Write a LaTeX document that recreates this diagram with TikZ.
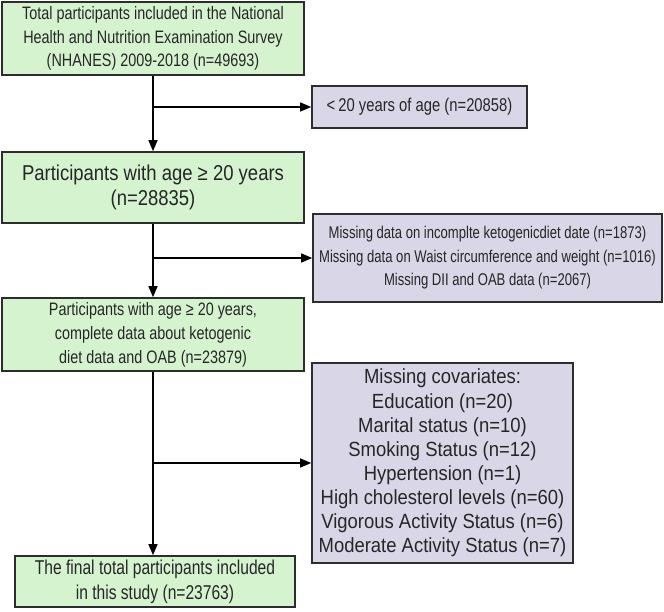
\documentclass[tikz,border=0pt]{standalone}
\usepackage{fontspec}
\usetikzlibrary{arrows.meta}
\setmainfont{Liberation Sans}
\newfontfamily\fA[FakeStretch=0.80]{Liberation Sans}
\newfontfamily\fB[FakeStretch=0.86]{Liberation Sans}
\newfontfamily\fC[FakeStretch=0.77]{Liberation Sans}
\newfontfamily\fD[FakeStretch=0.90]{Liberation Sans}
\newfontfamily\fE[FakeStretch=0.78]{Liberation Sans}
\definecolor{gfill}{RGB}{214,243,208}
\definecolor{pfill}{RGB}{216,214,231}
\definecolor{bord}{RGB}{45,45,45}
\tikzset{
  gbox/.style={draw=bord, line width=1.6pt, fill=gfill, inner sep=0pt, align=center, text=black!85},
  pbox/.style={draw=bord, line width=1.6pt, fill=pfill, inner sep=0pt, align=center, text=black!85},
  arr/.style={line width=1.4pt, -{Triangle[length=11pt,width=9pt]}},
  ln/.style={line width=1.4pt}
}
\begin{document}
\begin{tikzpicture}[x=1pt,y=-1pt]
\useasboundingbox (0,0) rectangle (664,612);
\node[gbox, minimum width=302pt, minimum height=73pt, font=\fA\fontsize{18}{23.5}\selectfont] (b1) at (153,38.5)
  {Total participants included in the National\\Health and Nutrition Examination Survey\\(NHANES) 2009-2018 (n=49693)};
\node[gbox, minimum width=302pt, minimum height=71pt, font=\fB\fontsize{21.5}{25}\selectfont] (b2) at (153,187.5)
  {Participants with age ≥ 20 years\\(n=28835)};
\node[gbox, minimum width=302pt, minimum height=73pt, font=\fA\fontsize{18}{24}\selectfont] (b3) at (153,334.5)
  {Participants with age ≥ 20 years,\\complete data about ketogenic\\diet data and OAB (n=23879)};
\node[gbox, minimum width=280pt, minimum height=51pt, font=\fE\fontsize{20}{25}\selectfont] (b4) at (155,581.5)
  {The final total participants included\\in this study (n=23763)};
\node[pbox, minimum width=215pt, minimum height=42pt, font=\fA\fontsize{18.5}{23}\selectfont] (e1) at (419.5,107)
  {<\,20 years of age (n=20858)};
\node[pbox, minimum width=349pt, minimum height=88pt, font=\fC\fontsize{17}{23.5}\selectfont] (e2) at (487.5,258)
  {Missing data on incomplte ketogenicdiet date (n=1873)\\Missing data on Waist circumference and weight (n=1016)\\Missing DII and OAB data (n=2067)};
\node[pbox, minimum width=261pt, minimum height=200pt, font=\fD\fontsize{20.5}{24.1}\selectfont] (e3) at (442.5,463)
  {Missing covariates:\\Education (n=20)\\Marital status (n=10)\\Smoking Status (n=12)\\Hypertension (n=1)\\High cholesterol levels (n=60)\\Vigorous Activity Status (n=6)\\Moderate Activity Status (n=7)};
\draw[arr] (b1.south) -- (b2.north);
\draw[arr] (b2.south) -- (b3.north);
\draw[arr] (b3.south) -- (b4.north -| b3.south);
\draw[arr] (b1.south |- e1.west) -- (e1.west);
\draw[arr] (b2.south |- e2.west) -- (e2.west);
\draw[arr] (b3.south |- e3.west) -- (e3.west);
\end{tikzpicture}
\end{document}
